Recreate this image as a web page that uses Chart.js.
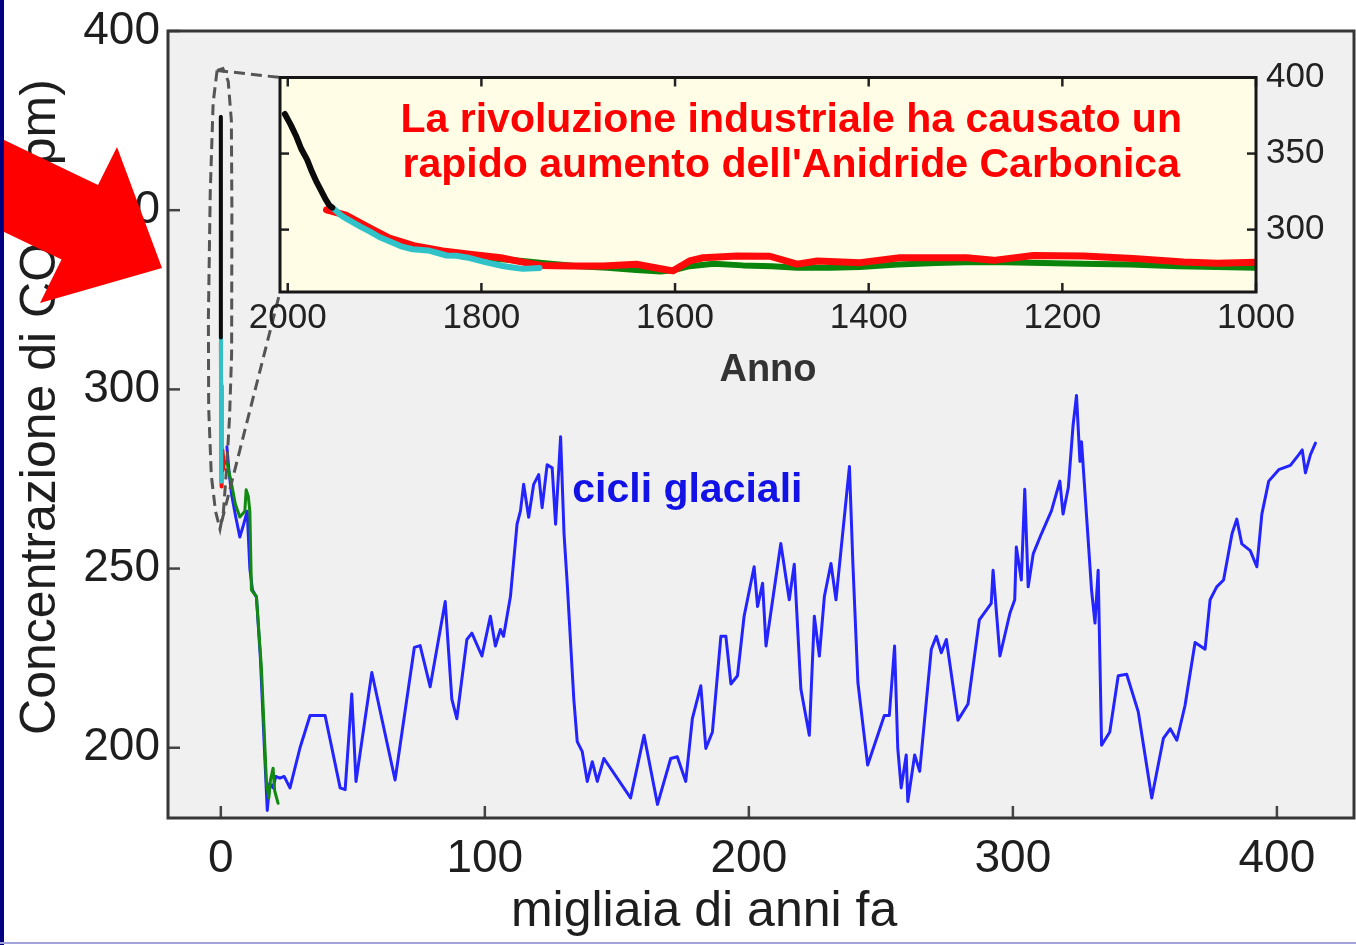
<!DOCTYPE html>
<html lang="it">
<head>
<meta charset="utf-8">
<title>CO2 - cicli glaciali</title>
<script src="https://cdn.jsdelivr.net/npm/chart.js@4.4.1/dist/chart.umd.min.js"></script>
<style>
  html, body { margin:0; padding:0; background:#ffffff; }
  body { width:1356px; height:945px; position:relative; overflow:hidden; }
  #mainBox { position:absolute; left:0; top:0; width:1356px; height:945px; }
  #insetBox { position:absolute; left:200px; top:50px; width:1150px; height:350px; }
  #edgeLeft { position:absolute; left:0; top:0; width:4px; height:945px; background:#000080; }
  #edgeBottom { position:absolute; left:0; top:942px; width:1356px; height:2px; background:#a3a3dc; }
</style>
</head>
<body>
<div id="mainBox"><canvas id="mainChart"></canvas></div>
<div id="insetBox"><canvas id="insetChart"></canvas></div>
<div id="edgeLeft"></div>
<div id="edgeBottom"></div>
<script>
// ================= DATA =================
// Main chart: ice core record (thousands of years ago, ppm)
const vostokKyr = [2.3,3.0,4.0,5.5,7.2,8.5,10.0,11.0,12.0,13.5,
  15.0,16.5,17.6,18.5,19.8,20.8,22.4,24.0,26.2,30.0,
  33.8,39.5,45.2,47.1,49.6,51.2,57.2,66.0,73.3,75.5,
  79.3,85.0,87.5,89.4,93.2,95.1,98.9,102.1,104.0,105.9,
  107.1,109.7,112.2,113.5,114.7,116.6,118.5,120.4,121.7,123.6,
  125.5,126.8,128.7,130.0,131.2,133.7,135.0,136.9,138.8,140.7,
  142.6,145.1,155.2,160.3,165.4,170.4,172.9,176.1,178.6,181.8,
  183.7,186.2,189.4,191.3,193.2,195.7,198.2,202.0,203.3,205.2,
  206.5,212.1,215.3,217.2,219.7,222.9,224.8,226.7,228.6,231.1,
  233.0,238.1,239.4,241.3,243.8,245.0,248.8,251.3,253.2,255.2,
  256.4,257.7,259.6,260.2,262.8,264.7,269.1,271.0,272.9,274.8,
  279.2,283.0,287.3,291.8,292.5,295.1,298.9,300.7,301.3,303.2,
  304.5,305.8,307.7,310.8,314.6,317.8,319.0,321.0,322.8,324.1,
  325.4,326.0,329.8,331.1,332.3,333.6,336.7,339.9,343.1,347.5,
  352.6,357.0,359.6,362.1,365.2,369.0,372.8,374.7,377.2,379.8,
  383.0,384.8,386.7,389.9,392.4,394.3,396.9,400.7,405.1,408.3,
  409.6,410.8,412.7,414.6];
const vostokPpm = [284,278,271,265,258.8,262,266,250,244,242,
  225,200,182.5,190,188.8,192,191.5,192,188.8,200,
  209,209,188.8,188.3,215,190.6,221,191,228,228.5,
  217,240.8,213.6,208.1,230.2,232,225.6,236.7,228.4,233,
  231.1,242.2,262.4,266.1,273.5,264.3,273.5,276.2,267,279,
  278.1,262.4,286.8,259.7,245.9,213.6,201.7,198.9,190.6,196.1,
  190.6,197,186,203.5,184.2,197,197.5,190.6,208.1,217.3,
  199.8,204.4,231.1,231.1,217.8,220.1,236.7,250.5,239.4,245.9,
  228.4,257,241.3,251.2,216.4,203.5,236.7,225.6,242.2,251.4,
  241.3,278.5,251.4,218.2,202.6,195.2,203.5,209,209,228.4,
  199.8,188.8,198,185,198,193.4,227.5,231.1,226.5,230.2,
  207.7,212.2,235.7,240.3,249.5,225.6,237.6,241.3,256,246.8,
  272.1,244.9,254.1,259.7,266.1,274.4,265.2,272.6,290,298.3,
  279.9,285.4,244,234.8,249.5,200.7,204.4,220.1,220.5,210,
  186,202.6,205.3,202.1,211.8,229.4,227.5,241.3,244.9,246.8,
  259.7,263.8,256.9,255,250.5,265.2,274.4,277.6,278.8,281.8,
  283.1,276.7,281.8,285];
const domeKyr = [1.0,2.2,4.1,5.5,7.2,9.1,9.6,10.4,11.0,11.6,13.5,15.4,17.3,18.2,18.8,19.8,20.4,21.7];
const domePpm = [279,280,273.5,268,264.4,266,272,270.2,266,244,242.2,222,190,186,191,194.3,188,184.5];

// Inset: last 1000 years (year, ppm)
const maunaLoaYear = [2003,1997,1991,1986,1980,1975,1970,1965,1961,1957,1954];
const maunaLoaPpm  = [376,369,361,353,346,338,331,325,320,316,314.5];
const lawDomeYear = [1954,1945,1939,1925,1915,1905,1895,1883,1871,1855,1846,1836,1826,1812,1795,1778,1766,1757,1740];
const lawDomePpm  = [314.5,309.5,307,302,298.7,295,292.3,289,287.1,286.3,284.8,283,282.8,281.3,278.5,276.1,275,274.2,274.8];
const iceRedYear = [1960,1940,1915,1895,1870,1840,1810,1780,1760,1738,1708,1674,1640,1612,1602,1585,1571,1536,1502,1474,1453,1409,1368,1299,1271,1230,1178,1127,1075,1040,1000];
const iceRedPpm  = [313,309.5,301,294.5,289.5,286,283.7,281.5,279,276.5,276.1,276.1,277.2,274,272.9,279.4,281.5,282.6,282.5,277.3,279.4,278.3,281.5,281.5,279.8,283,282.6,281.1,278.7,277.9,278.5];
const iceGreenYear = [1790,1760,1737,1700,1670,1640,1615,1600,1585,1560,1530,1500,1474,1440,1409,1370,1330,1300,1260,1220,1180,1130,1080,1040,1000];
const iceGreenPpm  = [281,279.5,278,276,275,273.5,272.5,273.5,276,277.5,276.5,276,275,275,275.5,277,278,278.5,278.5,278,277.5,277,276,275.5,275];

// Tick labels
const mainXTicks = [0,100,200,300,400];
const mainYTicks = [200,250,300,350,400];
const insetXTicks = [2000,1800,1600,1400,1200,1000];
const insetYTicks = [300,350,400];

// Texts
const mainYTitle = 'Concentrazione di CO\u2082 (ppm)';
const mainXTitle = 'migliaia di anni fa';
const insetXTitle = 'Anno';
const insetNote = ["La rivoluzione industriale ha causato un", "rapido aumento dell'Anidride Carbonica"];
const glacialNote = 'cicli glaciali';

// ================= HELPERS =================
const FONT = "'Liberation Sans', Arial, Helvetica, sans-serif";
Chart.defaults.font.family = FONT;
const pts = (xs, ys) => xs.map((x, i) => ({ x: x, y: ys[i] }));
const toKyr = yrs => yrs.map(y => (2000 - y) / 1000);
const fixedTicks = arr => function (axis) { axis.ticks = arr.map(v => ({ value: v })); };

function inwardTicks(chart, scale, side, len, color, width) {
  const ctx = chart.ctx, a = chart.chartArea;
  ctx.save();
  ctx.strokeStyle = color; ctx.lineWidth = width;
  scale.ticks.forEach((t, i) => {
    const p = scale.getPixelForTick(i);
    ctx.beginPath();
    if (side === 'bottom') { ctx.moveTo(p, a.bottom); ctx.lineTo(p, a.bottom - len); }
    if (side === 'top') { ctx.moveTo(p, a.top); ctx.lineTo(p, a.top + len); }
    if (side === 'left') { ctx.moveTo(a.left, p); ctx.lineTo(a.left + len, p); }
    if (side === 'right') { ctx.moveTo(a.right, p); ctx.lineTo(a.right - len, p); }
    ctx.stroke();
  });
  ctx.restore();
}

const lineDs = (label, data, color, width) => ({
  label, data, borderColor: color, backgroundColor: color, borderWidth: width,
  showLine: true, pointRadius: 0, pointHoverRadius: 0, fill: false, tension: 0,
  borderJoinStyle: 'round', borderCapStyle: 'round'
});

// ================= INSET CHART =================
const insetDeco = {
  id: 'insetDeco',
  beforeDraw(chart) {
    const a = chart.chartArea, ctx = chart.ctx;
    ctx.save(); ctx.fillStyle = '#fffde6';
    ctx.fillRect(a.left, a.top, a.right - a.left, a.bottom - a.top);
    ctx.restore();
  },
  afterDraw(chart, args, opts) {
    const ctx = chart.ctx, a = chart.chartArea;
    const xs = chart.scales.x, ys = chart.scales.y;
    inwardTicks(chart, xs, 'top', 9, '#222', 2.5);
    inwardTicks(chart, xs, 'bottom', 9, '#222', 2.5);
    inwardTicks(chart, ys, 'left', 9, '#222', 2.5);
    inwardTicks(chart, ys, 'right', 9, '#222', 2.5);
    ctx.save();
    ctx.strokeStyle = '#161616'; ctx.lineWidth = 3;
    ctx.strokeRect(a.left, a.top, a.right - a.left, a.bottom - a.top);
    ctx.fillStyle = '#ff0000';
    ctx.font = 'bold 41px ' + FONT;
    ctx.textAlign = 'center'; ctx.textBaseline = 'middle';
    const cx = xs.getPixelForValue(opts.noteYear);
    insetNote.forEach((line, i) => ctx.fillText(line, cx, ys.getPixelForValue(opts.notePpm[i])));
    ctx.restore();
  }
};

const insetChart = new Chart(document.getElementById('insetChart'), {
  type: 'scatter',
  data: {
    datasets: [
      lineDs('Mauna Loa', pts(maunaLoaYear, maunaLoaPpm), '#0b0b0b', 6),
      lineDs('Law Dome', pts(lawDomeYear, lawDomePpm), '#2fc3c9', 6),
      lineDs('Carota rossa', pts(iceRedYear, iceRedPpm), '#ff0a0a', 7),
      lineDs('Carota verde', pts(iceGreenYear, iceGreenPpm), '#0b840b', 6)
    ]
  },
  options: {
    responsive: true, maintainAspectRatio: false, animation: false, devicePixelRatio: 1,
    layout: { padding: { left: 80, top: 23, right: 0, bottom: 0 } },
    plugins: { legend: { display: false }, tooltip: { enabled: false },
      insetDeco: { noteYear: 1480, notePpm: [371.7, 342.1] } },
    scales: {
      x: {
        type: 'linear', reverse: true, min: 1000, max: 2008,
        afterBuildTicks: fixedTicks(insetXTicks),
        afterFit(s) { s.height = 108; },
        grid: { display: false, drawTicks: false, drawOnChartArea: false },
        border: { display: false },
        ticks: { autoSkip: false, maxRotation: 0, padding: 9, color: '#222',
          font: { size: 35, lineHeight: 1 }, callback: v => String(v) },
        title: { display: true, text: insetXTitle, color: '#333',
          font: { size: 38, weight: 'bold' }, padding: { top: 0, bottom: 7 } }
      },
      y: {
        type: 'linear', position: 'right', min: 259, max: 400,
        afterBuildTicks: fixedTicks(insetYTicks),
        afterFit(s) { s.width = 94; },
        grid: { display: false, drawTicks: false, drawOnChartArea: false },
        border: { display: false },
        ticks: { autoSkip: false, padding: 10, color: '#222',
          font: { size: 35, lineHeight: 1 }, callback: v => String(v) }
      }
    }
  },
  plugins: [insetDeco]
});

// ================= MAIN CHART =================
const mainDeco = {
  id: 'mainDeco',
  beforeDraw(chart) {
    const a = chart.chartArea, ctx = chart.ctx;
    ctx.save(); ctx.fillStyle = '#f0f0f0';
    ctx.fillRect(a.left, a.top, a.right - a.left, a.bottom - a.top);
    ctx.restore();
  },
  afterDatasetsDraw(chart, args, opts) {
    const ctx = chart.ctx, xs = chart.scales.x, ys = chart.scales.y;
    const P = p => [xs.getPixelForValue(p[0]), ys.getPixelForValue(p[1])];
    ctx.save();
    ctx.strokeStyle = '#555555'; ctx.lineWidth = 3; ctx.setLineDash([11, 6]);
    ctx.beginPath();
    opts.outline.forEach((p, i) => { const q = P(p); if (i === 0) ctx.moveTo(q[0], q[1]); else ctx.lineTo(q[0], q[1]); });
    ctx.stroke();
    // connectors to the inset frame
    const r1 = chart.canvas.getBoundingClientRect();
    const r2 = insetChart.canvas.getBoundingClientRect();
    const ox = r2.left - r1.left, oy = r2.top - r1.top, ia = insetChart.chartArea;
    const t = P(opts.linkTop), b = P(opts.linkBottom);
    ctx.beginPath(); ctx.moveTo(t[0], t[1]); ctx.lineTo(ox + ia.left, oy + ia.top); ctx.stroke();
    ctx.beginPath(); ctx.moveTo(b[0], b[1]); ctx.lineTo(ox + ia.left, oy + ia.bottom); ctx.stroke();
    ctx.restore();
    // glacial cycles label
    ctx.save();
    ctx.fillStyle = '#1212e6'; ctx.font = 'bold 41px ' + FONT;
    ctx.textAlign = 'center'; ctx.textBaseline = 'middle';
    ctx.fillText(glacialNote, xs.getPixelForValue(opts.glacialAt[0]), ys.getPixelForValue(opts.glacialAt[1]));
    ctx.restore();
  },
  afterDraw(chart, args, opts) {
    const ctx = chart.ctx, a = chart.chartArea;
    inwardTicks(chart, chart.scales.x, 'bottom', 12, '#444', 2.5);
    inwardTicks(chart, chart.scales.y, 'left', 12, '#444', 2.5);
    ctx.save();
    ctx.strokeStyle = '#363636'; ctx.lineWidth = 3;
    ctx.strokeRect(a.left, a.top, a.right - a.left, a.bottom - a.top);
    // big red arrow
    ctx.fillStyle = '#ff0000';
    ctx.beginPath();
    opts.arrow.forEach((p, i) => { if (i === 0) ctx.moveTo(p[0], p[1]); else ctx.lineTo(p[0], p[1]); });
    ctx.closePath(); ctx.fill();
    ctx.restore();
  }
};

new Chart(document.getElementById('mainChart'), {
  type: 'scatter',
  data: {
    datasets: [
      lineDs('Mauna Loa', pts(toKyr(maunaLoaYear), maunaLoaPpm), '#0b0b0b', 4),
      lineDs('Law Dome', pts(toKyr(lawDomeYear), lawDomePpm), '#2fc3c9', 4),
      lineDs('Carota rossa', pts(toKyr(iceRedYear), iceRedPpm), '#ff0a0a', 4),
      lineDs('Carota verde', pts(domeKyr, domePpm), '#108a10', 3),
      lineDs('Vostok', pts(vostokKyr, vostokPpm), '#2424ff', 3)
    ]
  },
  options: {
    responsive: true, maintainAspectRatio: false, animation: false, devicePixelRatio: 1,
    layout: { padding: { left: 0, top: 22, right: 2, bottom: 0 } },
    plugins: {
      legend: { display: false }, tooltip: { enabled: false },
      mainDeco: {
        outline: [[-1.4,389],[-2.9,380],[-4.0,355],[-4.7,320],[-4.6,295],[-3.6,276],[-2.0,266],[-0.3,261],
                  [1.0,266],[2.2,278],[3.3,292],[4.1,310],[4.2,350],[4.0,375],[2.8,386],[0.8,389.5],[-1.4,389]],
        linkTop: [-1.4, 389], linkBottom: [0.3, 263],
        glacialAt: [176.7, 271.7],
        arrow: [[0,138],[98,185],[117,147],[162,268],[40,303],[61.5,259.5],[0,230]]
      }
    },
    scales: {
      x: {
        type: 'linear', min: -20, max: 429.2,
        afterBuildTicks: fixedTicks(mainXTicks),
        afterFit(s) { s.height = 127; },
        grid: { display: false, drawTicks: false, drawOnChartArea: false },
        border: { display: false },
        ticks: { autoSkip: false, maxRotation: 0, padding: 18, color: '#1e1e1e',
          font: { size: 46, lineHeight: 1 }, callback: v => String(v) },
        title: { display: true, text: mainXTitle + '\u2002\u2002\u2002\u2002 ', color: '#1e1e1e',
          font: { size: 50 }, padding: { top: 0, bottom: 3 } }
      },
      y: {
        type: 'linear', min: 180.4, max: 400,
        afterBuildTicks: fixedTicks(mainYTicks),
        afterFit(s) { s.width = 168; },
        grid: { display: false, drawTicks: false, drawOnChartArea: false },
        border: { display: false },
        ticks: { autoSkip: false, padding: 8, color: '#1e1e1e',
          font: { size: 46, lineHeight: 1 }, callback: v => String(v) },
        title: { display: true, text: '\u2002\u2009' + mainYTitle, color: '#1e1e1e',
          font: { size: 50 }, padding: { top: 11, bottom: 0 } }
      }
    }
  },
  plugins: [mainDeco]
});
</script>
</body>
</html>
